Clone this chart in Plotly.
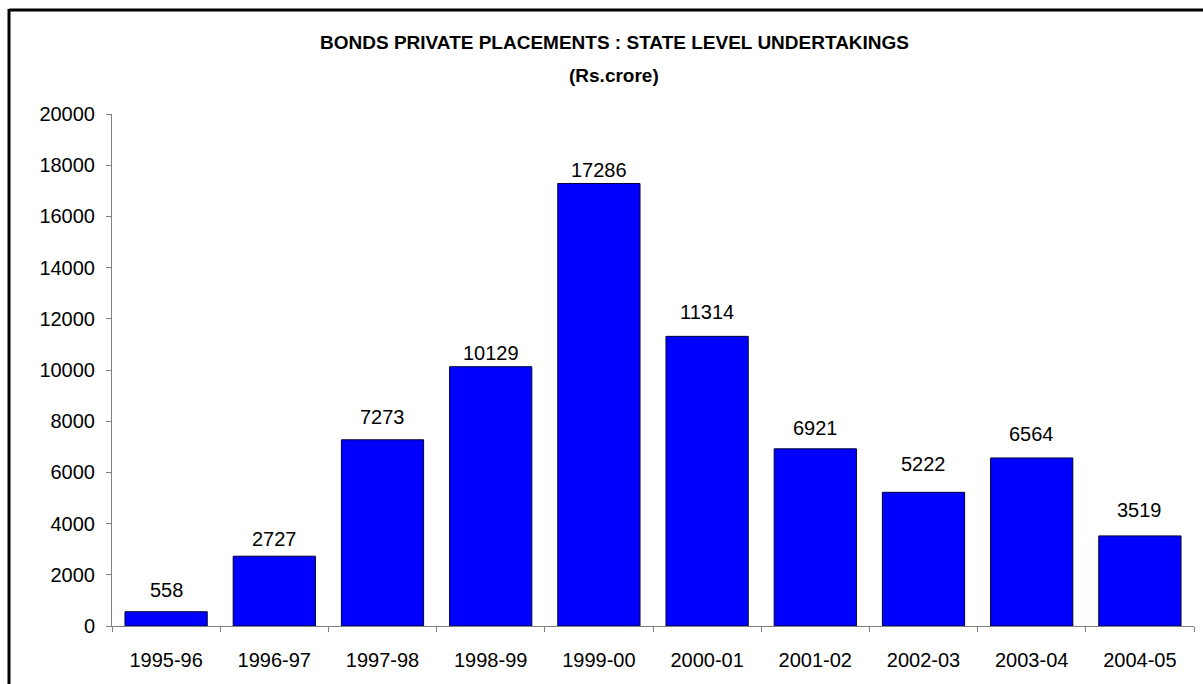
import plotly.graph_objects as go

# Financial years and amounts raised (Rs. crore)
years = ["1995-96", "1996-97", "1997-98", "1998-99", "1999-00",
         "2000-01", "2001-02", "2002-03", "2003-04", "2004-05"]
values = [558, 2727, 7273, 10129, 17286, 11314, 6921, 5222, 6564, 3519]
y_ticks = list(range(0, 20001, 2000))

# Vertical clearance (px) between each bar top and its value label
label_gap_px = [14, 9, 15, 6, 5, 16, 13, 20, 16, 18]

FONT = "Liberation Sans, Arial, sans-serif"
W, H = 1203, 684
L, R, T, B = 112, 9, 114, 58
PW, PH = W - L - R, H - T - B


def px_to_paper_x(px):
    return (px - L) / PW


def px_to_paper_y(py):
    return (H - B - py) / PH


fig = go.Figure(
    go.Bar(
        x=years,
        y=values,
        marker=dict(color="#0000FF", line=dict(color="#000033", width=1)),
        hoverinfo="x+y",
    )
)

annotations = []
for yr, v, gap in zip(years, values, label_gap_px):
    annotations.append(dict(
        x=yr, y=v, xref="x", yref="y", text=str(v), showarrow=False,
        yanchor="bottom", xanchor="center", yshift=gap - 5,
        font=dict(family=FONT, size=20, color="#000000"),
    ))

title_lines = [("BONDS PRIVATE PLACEMENTS : STATE LEVEL UNDERTAKINGS", 42),
               ("(Rs.crore)", 75)]
for txt, ypx in title_lines:
    annotations.append(dict(
        x=px_to_paper_x(614), y=px_to_paper_y(ypx), xref="paper", yref="paper",
        text="<b>%s</b>" % txt, showarrow=False, xanchor="center", yanchor="middle",
        font=dict(family=FONT, size=19, color="#000000"),
    ))

# Outer frame of the chart area
shapes = [
    dict(type="line", xref="paper", yref="paper",
         x0=px_to_paper_x(9), x1=px_to_paper_x(9),
         y0=px_to_paper_y(9), y1=px_to_paper_y(H + 20),
         line=dict(color="#000000", width=3)),
    dict(type="line", xref="paper", yref="paper",
         x0=px_to_paper_x(9), x1=px_to_paper_x(W + 20),
         y0=px_to_paper_y(10), y1=px_to_paper_y(10),
         line=dict(color="#000000", width=3)),
]

fig.update_layout(
    width=W, height=H,
    margin=dict(l=L, r=R, t=T, b=B, pad=0),
    paper_bgcolor="#FFFFFF", plot_bgcolor="#FFFFFF",
    bargap=0.24,
    showlegend=False,
    annotations=annotations,
    shapes=shapes,
    font=dict(family=FONT, size=20, color="#000000"),
    xaxis=dict(
        type="category",
        showline=True, linecolor="#808080", linewidth=1,
        ticks="outside", tickson="boundaries", ticklen=5, tickcolor="#808080",
        tickfont=dict(family=FONT, size=20, color="#000000"),
        ticklabelstandoff=16,
        showgrid=False, zeroline=False, fixedrange=True,
    ),
    yaxis=dict(
        range=[0, 20000], tickvals=y_ticks, ticktext=[str(v) for v in y_ticks],
        showline=True, linecolor="#808080", linewidth=1,
        ticks="outside", ticklen=5, tickcolor="#808080",
        tickfont=dict(family=FONT, size=20, color="#000000"),
        ticklabelstandoff=7,
        showgrid=False, zeroline=False, fixedrange=True,
    ),
)

fig.write_html("out.html", config={"displayModeBar": False})
